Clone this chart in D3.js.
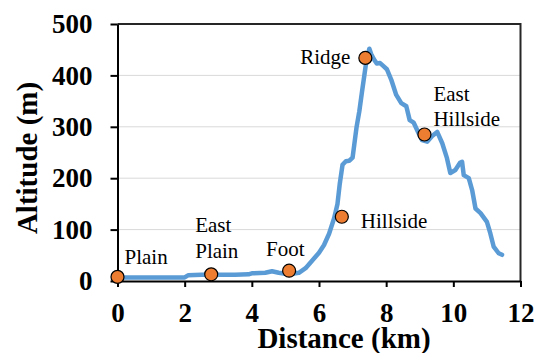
<!DOCTYPE html>
<html>
  <head>
    <title>Altitude profile</title>
    <meta charset="utf-8">
    <style>
      body {
        margin: 0;
        background-color: white;
      }

      .axis text {
        font-family: "Liberation Serif", "Times New Roman", serif;
        font-weight: bold;
        font-size: 27px;
        fill: #000;
      }

      .axis path,
      .axis line {
        fill: none;
        stroke: #000;
        stroke-width: 2px;
      }

      .grid line {
        stroke: #d9d9d9;
        stroke-width: 1px;
      }

      .title {
        font-family: "Liberation Serif", "Times New Roman", serif;
        font-weight: bold;
        font-size: 29px;
        fill: #000;
        text-anchor: middle;
      }
    </style>
  </head>
  <body>
  <svg class="chart"></svg>
  <script src="https://d3js.org/d3.v7.min.js"></script>
  <script>

    // altitude profile
    var distanceKm = [0, 0.5, 1, 1.5, 2.0, 2.1, 2.5, 3, 3.5, 3.9, 4.0, 4.4, 4.6, 4.8, 5.0, 5.2, 5.4, 5.6, 5.8, 6.0,
      6.15, 6.3, 6.45, 6.55, 6.62, 6.7, 6.8, 6.9, 7.0, 7.05, 7.12, 7.2, 7.28, 7.35, 7.42, 7.5, 7.55, 7.63, 7.72, 7.82,
      7.92, 8.02, 8.15, 8.3, 8.45, 8.6, 8.7, 8.82, 8.97, 9.07, 9.22, 9.37, 9.52, 9.67, 9.81, 9.91, 10.06, 10.2, 10.26,
      10.31, 10.46, 10.56, 10.66, 10.81, 11.0, 11.1, 11.2, 11.35, 11.45];
    var altitudeM = [7, 7, 7, 7, 7, 11, 12, 12, 12, 13, 15, 16, 19, 16, 14, 14, 16, 25, 40, 55,
      70, 92, 122, 150, 190, 226, 233, 234, 240, 265, 300, 330, 368, 400, 432, 452, 442, 432, 423, 424,
      418, 412, 392, 362, 346, 340, 313, 308, 287, 274, 271, 282, 290, 268, 239, 210, 216, 230, 232,
      206, 200, 177, 141, 132, 115, 93, 67, 54, 51];

    // named places along the route
    var placeNames = [["Plain"], ["East", "Plain"], ["Foot"], ["Hillside"], ["Ridge"], ["East", "Hillside"]];
    var placeKm = [0, 2.79, 5.11, 6.68, 7.38, 9.14];
    var placeAlt = [8, 13, 20, 125, 434, 285];

    var xTicks = [0, 2, 4, 6, 8, 10, 12];
    var yTicks = [0, 100, 200, 300, 400, 500];

    // where each label sits relative to its marker (px): dx, dy of first line, anchor
    var labelPos = [
      {dx: 7, dy: -13, anchor: "start"},
      {dx: -16, dy: -42, anchor: "start"},
      {dx: -23, dy: -15, anchor: "start"},
      {dx: 19, dy: 11, anchor: "start"},
      {dx: -15, dy: 6, anchor: "end"},
      {dx: 9, dy: -34, anchor: "start"}
    ];

    var margin = {top: 24, right: 20.5, bottom: 72, left: 117.5};
    var width = 541 - margin.left - margin.right;
    var height = 353 - margin.top - margin.bottom;

    var svg = d3.select("svg")
      .attr("width", 541)
      .attr("height", 353);

    var x = d3.scaleLinear()
      .domain([0, 12])
      .range([0, width]);

    var y = d3.scaleLinear()
      .domain([0, 500])
      .range([height, 0]);

    var chart = svg.append("g")
      .attr("transform", "translate(" + margin.left + "," + margin.top + ")");

    // gridlines
    chart.append("g")
      .attr("class", "grid")
      .selectAll("line")
      .data(yTicks.slice(1, -1))
      .enter().append("line")
      .attr("x1", 0)
      .attr("x2", width)
      .attr("y1", function(d) { return y(d); })
      .attr("y2", function(d) { return y(d); });

    // frame top and right
    chart.append("path")
      .attr("d", "M0," + y(500) + "H" + x(12) + "V" + y(0))
      .attr("fill", "none")
      .attr("stroke", "#262626")
      .attr("stroke-width", 2);

    var xAxis = d3.axisBottom(x)
      .tickValues(xTicks)
      .tickSize(6)
      .tickSizeOuter(0)
      .tickPadding(16);

    var yAxis = d3.axisLeft(y)
      .tickValues(yTicks)
      .tickSize(7)
      .tickSizeOuter(0)
      .tickPadding(18);

    chart.append("g")
      .attr("class", "x axis")
      .attr("transform", "translate(0," + height + ")")
      .call(xAxis);

    chart.append("g")
      .attr("class", "y axis")
      .call(yAxis);

    // profile line
    var line = d3.line()
      .x(function(d, i) { return x(distanceKm[i]); })
      .y(function(d) { return y(d); });

    chart.append("path")
      .datum(altitudeM)
      .attr("fill", "none")
      .attr("stroke", "#5b9bd5")
      .attr("stroke-width", 4.5)
      .attr("stroke-linejoin", "round")
      .attr("stroke-linecap", "round")
      .attr("d", line);

    // markers
    chart.selectAll(".place")
      .data(placeKm)
      .enter().append("circle")
      .attr("class", "place")
      .attr("cx", function(d) { return x(d); })
      .attr("cy", function(d, i) { return y(placeAlt[i]); })
      .attr("r", 6.5)
      .attr("fill", "#ed7d31")
      .attr("stroke", "#000")
      .attr("stroke-width", 1.2);

    // labels
    var labels = chart.selectAll(".place-label")
      .data(placeNames)
      .enter().append("text")
      .attr("class", "place-label")
      .attr("font-family", "Liberation Serif, Times New Roman, serif")
      .attr("font-size", 21)
      .attr("fill", "#000")
      .attr("text-anchor", function(d, i) { return labelPos[i].anchor; })
      .attr("transform", function(d, i) {
        return "translate(" + (x(placeKm[i]) + labelPos[i].dx) + "," + (y(placeAlt[i]) + labelPos[i].dy) + ")";
      });

    labels.selectAll("tspan")
      .data(function(d) { return d; })
      .enter().append("tspan")
      .attr("x", 0)
      .attr("y", function(d, j) { return j * 25.5; })
      .text(function(d) { return d; });

    // axis titles
    svg.append("text")
      .attr("class", "title")
      .attr("x", 344)
      .attr("y", 348)
      .text("Distance (km)");

    svg.append("text")
      .attr("class", "title")
      .attr("transform", "translate(37,158) rotate(-90)")
      .text("Altitude (m)");

  </script>
  </body>
</html>
